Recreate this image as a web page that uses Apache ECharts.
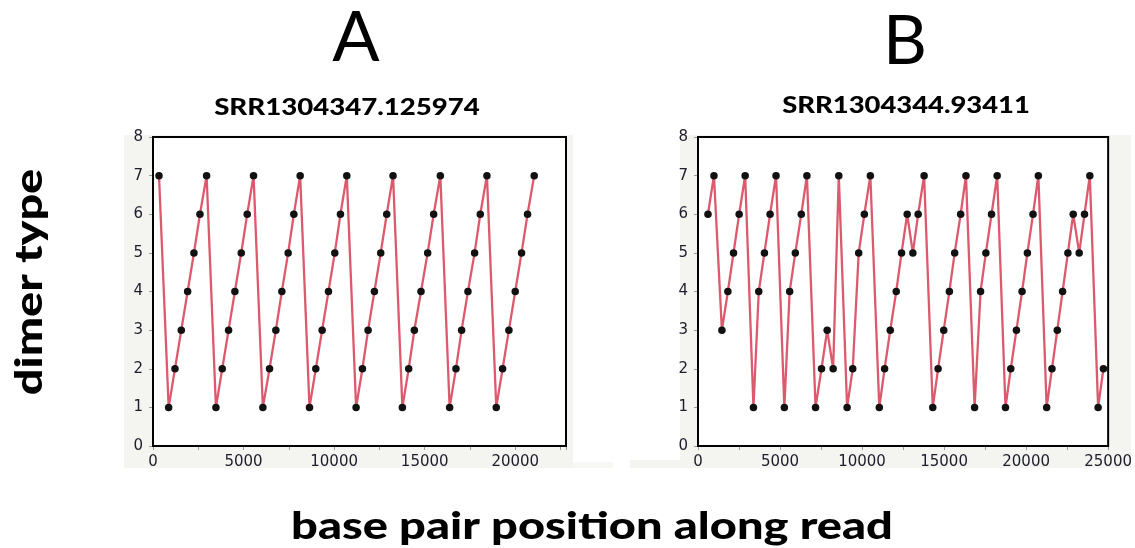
<!DOCTYPE html>
<html>
<head>
<meta charset="utf-8">
<script src="https://cdn.jsdelivr.net/npm/echarts@6/dist/echarts.min.js"></script>
<style>
html,body{margin:0;padding:0;background:#fff;}
#chart{width:1135px;height:548px;}
</style>
</head>
<body>
<div id="chart"></div>
<script>
// Panel A: SRR1304347.125974
var posA = [331,864,1213,1562,1912,2261,2592,2959,3474,3823,4172,4521,4871,5202,5551,6065,6433,6782,7113,7462,7775,8124,8639,8988,9337,9687,10036,10348,10698,11212,11561,11874,12223,12572,12903,13252,13767,14116,14428,14796,15163,15494,15862,16376,16725,17038,17387,17755,18067,18435,18950,19299,19648,19997,20346,20677,21045];
var typeA = [7,1,2,3,4,5,6,7,1,2,3,4,5,6,7,1,2,3,4,5,6,7,1,2,3,4,5,6,7,1,2,3,4,5,6,7,1,2,3,4,5,6,7,1,2,3,4,5,6,7,1,2,3,4,5,6,7];
// Panel B: SRR1304344.93411
var posB = [607,972,1457,1822,2166,2510,2874,3380,3704,4049,4393,4757,5263,5587,5931,6296,6639,7165,7529,7874,8238,8582,9088,9432,9796,10140,10505,11051,11375,11719,12083,12407,12751,13096,13419,13783,14310,14634,14978,15322,15646,16010,16334,16860,17224,17548,17892,18236,18742,19066,19410,19754,20078,20422,20746,21252,21576,21900,22224,22547,22871,23236,23559,23883,24389,24713];
var typeB = [6,7,3,4,5,6,7,1,4,5,6,7,1,4,5,6,7,1,2,3,2,7,1,2,5,6,7,1,2,3,4,5,6,5,6,7,1,2,3,4,5,6,7,1,4,5,6,7,1,2,3,4,5,6,7,1,2,3,4,5,6,5,6,7,1,2];
var yTicks = [0,1,2,3,4,5,6,7,8];
var panelLetters = ['A','B'];
var panelTitles = ['SRR1304347.125974','SRR1304344.93411'];
var yTitle = 'dimer type';
var xTitle = 'base pair position along read';

function pairs(xs, ys){ return xs.map(function(x,i){ return [x, ys[i]]; }); }

var chart = echarts.init(document.getElementById('chart'), null, {renderer:'canvas'});
var labelColor = '#1d1d2b';
function xAxis(idx, max){
  return {
    type:'value', gridIndex:idx, min:0, max:max, interval:2500,
    axisLine:{show:false},
    axisTick:{show:true, length:4, lineStyle:{color:'#9a9a9a', width:1}},
    splitLine:{show:false},
    axisLabel:{margin:9, fontSize:15, fontFamily:'DejaVu Sans', color:labelColor, showMaxLabel:true,
      formatter:function(v){ return (v % 5000 === 0) ? String(v) : ''; }}
  };
}
function yAxis(idx){
  return {
    type:'value', gridIndex:idx, min:yTicks[0], max:yTicks[yTicks.length-1], interval:1,
    axisLine:{show:false},
    axisTick:{show:true, length:4, lineStyle:{color:'#9a9a9a', width:1}},
    splitLine:{show:false},
    axisLabel:{margin:10, fontSize:15, fontFamily:'DejaVu Sans', color:labelColor}
  };
}
function series(idx, data){
  return {
    type:'line', xAxisIndex:idx, yAxisIndex:idx, data:data,
    symbol:'circle', symbolSize:7.5,
    itemStyle:{color:'#111'},
    lineStyle:{color:'#dc5a6e', width:2.3},
    z:3, animation:false
  };
}
var bg = '#f4f4f0';
chart.setOption({
  animation:false,
  backgroundColor:'#ffffff',
  grid:[
    {left:153, top:137, width:413, height:309, show:true, backgroundColor:'#fff', borderColor:'#000', borderWidth:2, z:1},
    {left:698, top:137, width:412, height:309, show:true, backgroundColor:'#fff', borderColor:'#000', borderWidth:2, z:1}
  ],
  xAxis:[xAxis(0, 22800), xAxis(1, 25000)],
  yAxis:[yAxis(0), yAxis(1)],
  series:[series(0, pairs(posA, typeA)), series(1, pairs(posB, typeB))],
  graphic:[
    {type:'rect', z:-10, silent:true, shape:{x:124,y:135,width:449,height:333}, style:{fill:bg}},
    {type:'rect', z:-10, silent:true, shape:{x:573,y:462,width:40,height:6}, style:{fill:'#f7f7f4'}},
    {type:'rect', z:-10, silent:true, shape:{x:680,y:135,width:451,height:333}, style:{fill:bg}},
    {type:'rect', z:-10, silent:true, shape:{x:630,y:460,width:50,height:8}, style:{fill:bg}},
    {type:'text', x:356, y:38, style:{text:panelLetters[0], font:'400 70px Lato', fill:'#000', textAlign:'center', textVerticalAlign:'middle'}},
    {type:'text', x:905, y:42, style:{text:panelLetters[1], font:'400 68px Lato', fill:'#000', textAlign:'center', textVerticalAlign:'middle'}},
    {type:'text', x:347, y:108, scaleX:1.2, style:{text:panelTitles[0], font:'900 23px Lato', fill:'#000', textAlign:'center', textVerticalAlign:'middle'}},
    {type:'text', x:906, y:106, scaleX:1.19, style:{text:panelTitles[1], font:'900 23px Lato', fill:'#000', textAlign:'center', textVerticalAlign:'middle'}},
    {type:'text', x:30, y:282, rotation:Math.PI/2, scaleX:1.23, style:{text:yTitle, font:'900 38px Lato', fill:'#000', textAlign:'center', textVerticalAlign:'middle'}},
    {type:'text', x:592, y:527, scaleX:1.27, style:{text:xTitle, font:'900 37px Lato', fill:'#000', textAlign:'center', textVerticalAlign:'middle'}}
  ]
});
</script>
</body>
</html>
